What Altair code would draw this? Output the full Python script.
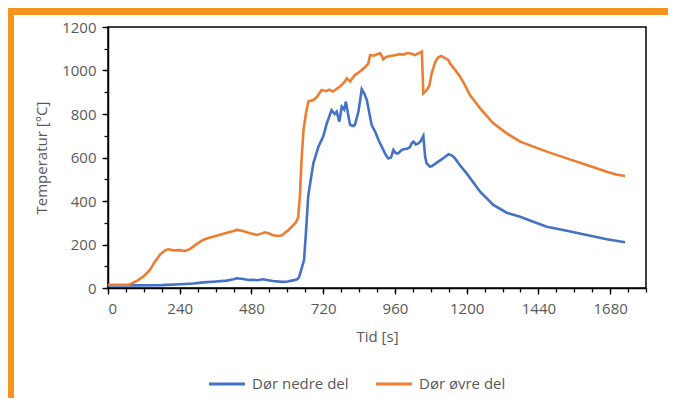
import altair as alt
import pandas as pd

# ---- data ----
nedre_t = [0, 100, 180, 241, 285, 320, 351, 398, 420, 431, 452, 470, 485, 500, 519, 535, 552, 582, 600, 619, 633, 639,
           648, 656, 662, 670, 687, 704, 720, 732, 748, 758, 765, 774, 782, 790, 796, 803, 810, 820, 826, 838, 849, 857,
           866, 875, 882, 895, 905, 921, 930, 938, 947, 955, 963, 971, 980, 988, 1000, 1010, 1016, 1022, 1030, 1038,
           1046, 1055, 1061, 1066, 1077, 1083, 1105, 1125, 1139, 1150, 1161, 1180, 1200, 1245, 1289, 1334, 1379, 1423,
           1468, 1535, 1602, 1669, 1730]
nedre_v = [12, 12, 13, 17, 21, 26, 29, 34, 40, 45, 41, 37, 38, 36, 40, 36, 32, 28, 30, 35, 40, 49,
           90, 129, 250, 425, 573, 650, 696, 757, 818, 800, 811, 765, 834, 820, 857, 800, 750, 745, 750, 811, 914, 895,
           864, 800, 750, 715, 680, 635, 610, 596, 600, 635, 620, 619, 632, 638, 640, 647, 665, 673, 660, 665,
           675, 699, 604, 573, 558, 560, 581, 600, 615, 610, 596, 560, 527, 443, 382, 346, 328, 305,
           282, 263, 244, 224, 210]

ovre_t = [0, 70, 100, 120, 140, 157, 175, 190, 201, 220, 240, 258, 275, 285, 300, 318, 335, 351, 375, 398, 420, 431,
          452, 475, 498, 512, 525, 537, 549, 569, 582, 592, 605, 615, 628, 636, 642, 648, 654, 662, 670, 687, 700, 715,
          730, 740, 753, 765, 776, 790, 799, 810, 818, 826, 838, 849, 860, 871, 877, 890, 900, 910, 915, 921, 930, 944,
          960, 977, 990, 1000, 1010, 1020, 1027, 1040, 1050, 1055, 1066, 1075, 1083, 1095, 1105, 1116, 1122, 1139,
          1144, 1160, 1178, 1195, 1211, 1245, 1289, 1334, 1379, 1423, 1468, 1535, 1602, 1669, 1700, 1730]
ovre_v = [15, 15, 35, 55, 83, 121, 155, 172, 178, 173, 174, 170, 180, 190, 205, 221, 230, 236, 245, 254, 262, 267,
          262, 252, 244, 250, 256, 252, 244, 239, 242, 254, 268, 282, 300, 323, 420, 600, 726, 800, 857, 864, 880, 910,
          905, 912, 903, 915, 926, 945, 964, 949, 965, 979, 990, 1002, 1015, 1033, 1071, 1068, 1075, 1079, 1070, 1051,
          1062, 1067, 1070, 1075, 1073, 1080, 1079, 1075, 1071, 1080, 1087, 895, 910, 930, 987, 1040, 1061, 1067, 1061,
          1048, 1033, 1005, 972, 930, 887, 826, 757, 711, 673, 650, 627, 596, 566, 535, 522, 515]

series_names = ["Dør nedre del", "Dør øvre del"]
series_colors = ["#4472C4", "#ED7D31"]
x_major = [0, 240, 480, 720, 960, 1200, 1440, 1680]
x_minor = list(range(0, 1801, 60))
y_major = [0, 200, 400, 600, 800, 1000, 1200]
y_minor = list(range(0, 1201, 100))

df = pd.concat([
    pd.DataFrame({"Tid": nedre_t, "Temp": nedre_v, "Serie": series_names[0], "ord": range(len(nedre_t))}),
    pd.DataFrame({"Tid": ovre_t, "Temp": ovre_v, "Serie": series_names[1], "ord": range(len(ovre_t))}),
])

FONT = "Open Sans"
GREY = "#595959"
W, H = 538, 261

xscale = alt.Scale(domain=[0, 1800], nice=False, zero=False)
yscale = alt.Scale(domain=[0, 1200], nice=False)

lines = alt.Chart(df).mark_line(strokeWidth=2.6, clip=True).encode(
    x=alt.X("Tid:Q", scale=xscale, axis=alt.Axis(
        values=x_major, orient="bottom", title="Tid [s]", grid=False, tickSize=6, format="d",
        labelPadding=7, titlePadding=13)),
    y=alt.Y("Temp:Q", scale=yscale, axis=alt.Axis(
        values=y_major, orient="left", title="Temperatur [°C]", grid=False, tickSize=6, format="d",
        labelPadding=6, titlePadding=12)),
    color=alt.Color("Serie:N", scale=alt.Scale(domain=series_names, range=series_colors),
                    legend=alt.Legend(title=None, orient="none", direction="horizontal",
                                      legendX=99, legendY=337, symbolType="stroke",
                                      symbolSize=1300, symbolStrokeWidth=3,
                                      labelFontSize=15, labelFont=FONT, labelColor=GREY,
                                      columnPadding=20, labelOffset=5)),
    order="ord:Q",
)

minor = alt.Chart(df).mark_point(opacity=0).encode(
    x=alt.X("Tid:Q", scale=xscale, axis=alt.Axis(
        values=x_minor, orient="bottom", title=None, labels=False, domain=False,
        grid=False, tickSize=4)),
    y=alt.Y("Temp:Q", scale=yscale, axis=alt.Axis(
        values=y_minor, orient="left", title=None, labels=False, domain=False,
        grid=False, tickSize=4)),
)

frame_data = alt.Data(values=[{"k": 1}])
frame_left = alt.Chart(frame_data).mark_rect(color="#F7941D").encode(
    x=alt.value(-100), x2=alt.value(-94), y=alt.value(-19), y2=alt.value(384))
frame_top = alt.Chart(frame_data).mark_rect(color="#F7941D").encode(
    x=alt.value(-100), x2=alt.value(W + 22), y=alt.value(-19), y2=alt.value(-12))

chart = alt.layer(frame_left, frame_top, minor, lines).resolve_axis(
    x="independent", y="independent"
).properties(
    width=W, height=H,
    background="white",
    autosize=alt.AutoSizeParams(type="none"),
    padding={"left": 100, "top": 19, "right": 22, "bottom": 110},
).configure_view(
    stroke="#000000", strokeWidth=1.5
).configure_axis(
    domainColor="#000000", domainWidth=1.5, tickColor="#000000", tickWidth=1.3,
    labelFont=FONT, labelFontSize=15, labelColor=GREY,
    titleFont=FONT, titleFontSize=15, titleColor=GREY, titleFontWeight="normal",
)

chart.save("out.html", embed_options={"renderer": "svg", "actions": False})
